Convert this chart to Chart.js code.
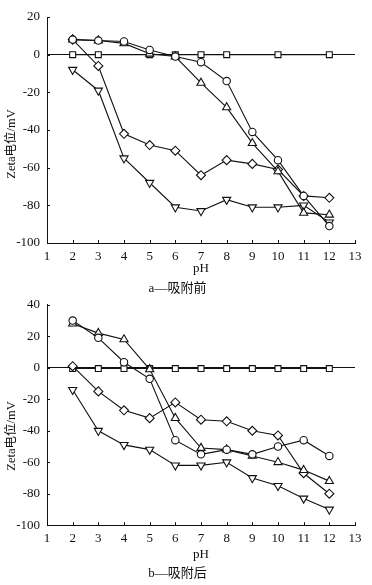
<!DOCTYPE html>
<html>
<head>
<meta charset="utf-8">
<script src="https://cdn.jsdelivr.net/npm/chart.js"></script>
<style>
  body { margin: 0; background: #fff; width: 372px; height: 585px; position: relative; overflow: hidden; }
  .box { position: absolute; left: 0; width: 372px; }
</style>
</head>
<body>
<div class="box" style="top:0;height:300px"><canvas id="chartA"></canvas></div>
<div class="box" style="top:290px;height:295px"><canvas id="chartB"></canvas></div>
<script>
const pH = [2, 3, 4, 5, 6, 7, 8, 9, 10, 11, 12];

// a — before adsorption
const aSquare   = [0, 0, null, 0, 0, 0, 0, null, 0, null, 0];
const aCircle   = [8, 7.5, 7, 2.5, -1, -4, -14, -41, -56, -75, -91];
const aTriangle = [8, 7.5, 6, 0.5, -1, -15, -28, -47, -62, -84, -85];
const aDiamond  = [8, -6, -42, -48, -51, -64, -56, -58, -61, -75, -76];
const aInvTri   = [-8, -19, -55, -68, -81, -83, -77, -81, -81, -80, -89];

// b — after adsorption
const bSquare   = [-0.5, -0.5, -0.5, -0.5, -0.5, -0.5, -0.5, -0.5, -0.5, -0.5, -0.5];
const bCircle   = [30, 19, 3.5, -7, -46, -55, -52, -55, -50, -46, -56];
const bTriangle = [28, 22, 18, -1, -32, -51, -52, -56, -60, -65, -72];
const bDiamond  = [1, -15, -27, -32, -22, -33, -34, -40, -43, -67, -80];
const bInvTri   = [-14, -40, -49, -52, -62, -62, -60, -70, -75, -83, -90];

const yTicksA = [-100, 20];
const yTicksB = [-100, 40];

const FONT = "'Liberation Serif', 'Noto Sans CJK SC', serif";
const INK = '#111';
Chart.defaults.font.family = FONT;
Chart.defaults.color = INK;

function series(data, style, rot, r) {
  return {
    data: pH.map((x, i) => ({ x: x, y: data[i] })),
    pointStyle: style,
    pointRotation: rot,
    pointRadius: r,
    borderColor: INK,
    borderWidth: 1.1,
    pointBorderColor: INK,
    pointBorderWidth: 1.1,
    pointBackgroundColor: '#fff',
    backgroundColor: '#fff',
    spanGaps: true,
    tension: 0
  };
}

// inward tick marks + rotated y-axis label
const axisExtras = {
  id: 'axisExtras',
  afterDraw(chart, args, opts) {
    const ctx = chart.ctx;
    const ca = chart.chartArea;
    const xs = chart.scales.x, ys = chart.scales.y;
    ctx.save();
    ctx.strokeStyle = INK;
    ctx.lineWidth = 1;
    ctx.beginPath();
    xs.ticks.forEach(t => {
      const px = Math.round(xs.getPixelForValue(t.value)) + 0.5;
      ctx.moveTo(px, ca.bottom);
      ctx.lineTo(px, ca.bottom - 3);
    });
    ys.ticks.forEach(t => {
      const py = Math.round(ys.getPixelForValue(t.value)) + 0.5;
      ctx.moveTo(ca.left, py);
      ctx.lineTo(ca.left + 3, py);
    });
    ctx.stroke();
    ctx.translate(opts.x, opts.y);
    ctx.rotate(-Math.PI / 2);
    ctx.font = '12.5px ' + FONT;
    ctx.fillStyle = INK;
    ctx.textAlign = 'center';
    ctx.textBaseline = 'middle';
    ctx.fillText(opts.text, 0, 0);
    ctx.restore();
  }
};

function makeChart(id, sets, yRange, caption, lay) {
  return new Chart(document.getElementById(id), {
    type: 'line',
    data: {
      datasets: [
        series(sets[0], 'circle', 0, 3.7),
        series(sets[1], 'triangle', 0, 4.7),
        series(sets[2], 'rectRot', 0, 4.5),
        series(sets[3], 'triangle', 180, 4.7),
        series(sets[4], 'rect', 0, 4.2)
      ]
    },
    plugins: [axisExtras],
    options: {
      animation: false,
      responsive: true,
      maintainAspectRatio: false,
      layout: { padding: { top: lay.top, right: 17, left: 0, bottom: 0 } },
      plugins: {
        legend: { display: false },
        tooltip: { enabled: false },
        title: {
          display: true, position: 'bottom', text: caption, color: INK,
          font: { size: 13, weight: 'normal' },
          padding: { top: 2, bottom: lay.capBottom }
        },
        axisExtras: { text: 'Zeta电位/mV', x: 12, y: lay.yLabel }
      },
      scales: {
        x: {
          type: 'linear', min: 1, max: 13,
          ticks: { stepSize: 1, padding: 6, font: { size: 13 }, color: INK },
          grid: { display: false, drawTicks: false },
          border: { color: INK, width: 1 },
          title: { display: true, text: 'pH', color: INK, font: { size: 13 }, padding: { top: 0, bottom: lay.phBottom } },
          afterFit: s => { s.height = lay.xHeight; }
        },
        y: {
          min: yRange[0], max: yRange[1],
          ticks: { stepSize: 20, padding: 7, font: { size: 13 }, color: INK },
          grid: {
            drawTicks: false,
            color: c => (c.tick && c.tick.value === 0) ? INK : 'rgba(0,0,0,0)',
            lineWidth: 1.1
          },
          border: { color: INK, width: 1 },
          afterFit: s => { s.width = 47; }
        }
      }
    }
  });
}

makeChart('chartA', [aCircle, aTriangle, aDiamond, aInvTri, aSquare], yTicksA, 'a—吸附前',
  { top: 17, capBottom: 4, phBottom: 2.5, xHeight: 35.4, yLabel: 144 });
makeChart('chartB', [bCircle, bTriangle, bDiamond, bInvTri, bSquare], yTicksB, 'b—吸附后',
  { top: 10, capBottom: 4, phBottom: 1.5, xHeight: 38.2, yLabel: 146 });
</script>
</body>
</html>
